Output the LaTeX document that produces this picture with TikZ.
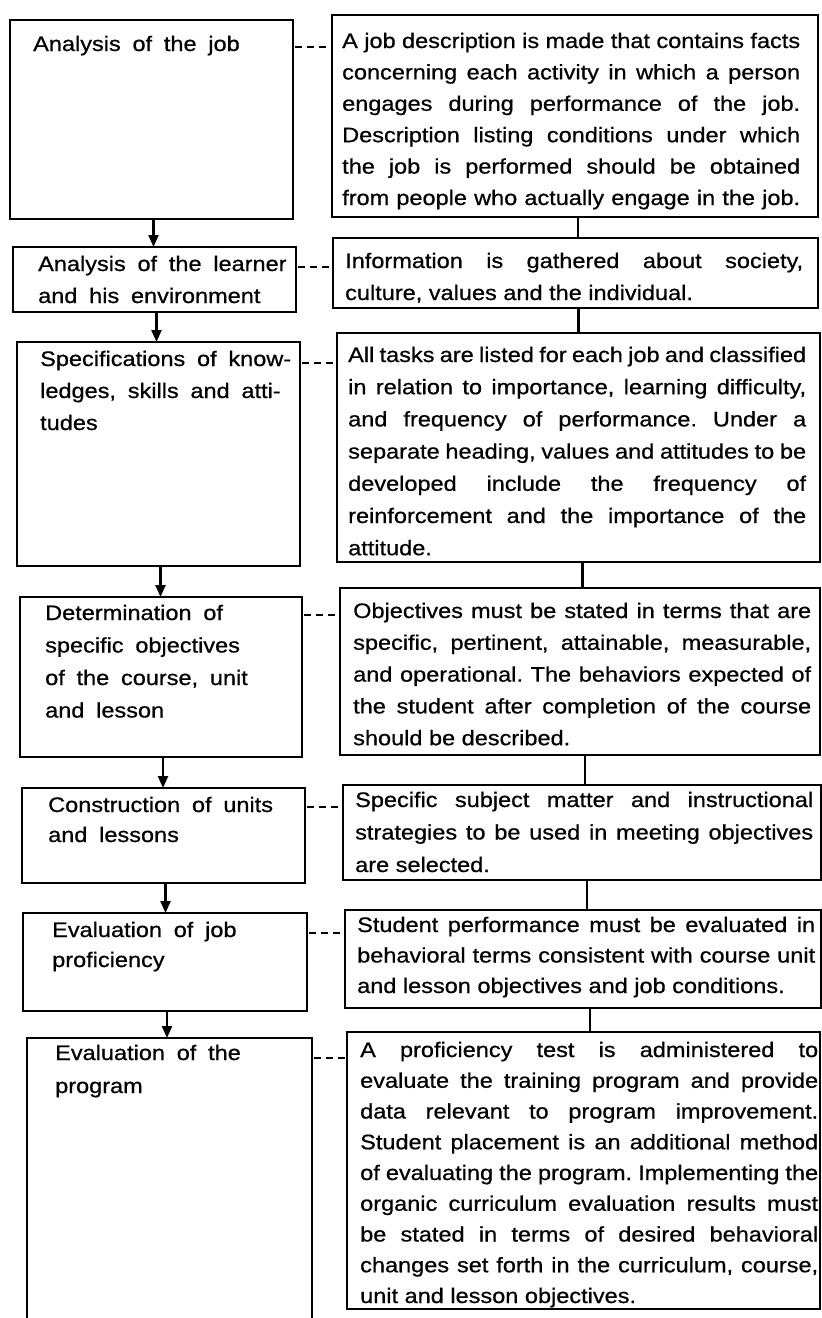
\documentclass[tikz,border=0pt]{standalone}
\usepackage{fontspec}
\setmainfont{Liberation Sans}[FakeStretch=1.12,FakeBold=0.7]
\newfontfamily\lfont{Liberation Sans}[FakeStretch=1.12,FakeBold=0.7,WordSpace=1.8]
\usetikzlibrary{arrows.meta}
\newlength\rw \setlength\rw{458pt}
\newcommand\jl[1]{\hbox to \rw{#1}}
\newcommand\nl[1]{\hbox{#1}}
\newcommand\txtblock[2]{\vtop{\baselineskip=#1pt\lineskiplimit=-100pt #2}}
\hbadness=10000 \hfuzz=50pt
\frenchspacing
\begin{document}
\begin{tikzpicture}[x=1pt,y=-1pt,
  box/.style={draw, line width=2.3pt, anchor=north west, inner sep=0pt, outer sep=0pt},
  rtext/.style={anchor=base west, inner sep=0pt, font=\fontsize{21}{32}\selectfont\frenchspacing},
  ltext/.style={anchor=base west, inner sep=0pt, font=\lfont\fontsize{21}{32}\selectfont\frenchspacing},
  flow/.style={line width=2.3pt, -{Triangle[length=12pt,width=10pt]}},
  link/.style={line width=2.3pt},
  dlink/.style={line width=2.3pt, dash pattern=on 7pt off 5pt, dash phase=10pt}]
\useasboundingbox (0,0) rectangle (822,1318);
\clip (0,0) rectangle (822,1318);

% left boxes
\node[box, minimum width=283pt, minimum height=199pt] (L1) at (10,20) {};
\node[box, minimum width=283pt, minimum height=65pt]  (L2) at (13,247) {};
\node[box, minimum width=283pt, minimum height=224pt] (L3) at (17,342) {};
\node[box, minimum width=282pt, minimum height=160pt] (L4) at (20,597) {};
\node[box, minimum width=283pt, minimum height=95pt]  (L5) at (22,788) {};
\node[box, minimum width=284pt, minimum height=98pt]  (L6) at (23,913) {};
\node[box, minimum width=285pt, minimum height=300pt] (L7) at (27,1038) {};

% right boxes
\node[box, minimum width=486pt, minimum height=202pt] (R1) at (332,15) {};
\node[box, minimum width=485pt, minimum height=70pt]  (R2) at (333,238) {};
\node[box, minimum width=483pt, minimum height=229pt] (R3) at (337,333) {};
\node[box, minimum width=480pt, minimum height=167pt] (R4) at (340,588) {};
\node[box, minimum width=478pt, minimum height=95pt]  (R5) at (343,785) {};
\node[box, minimum width=476pt, minimum height=98pt]  (R6) at (345,910) {};
\node[box, minimum width=473pt, minimum height=277pt] (R7) at (347,1032) {};

% left texts
\node[ltext] (L1t) at (33,51) {\txtblock{32}{\nl{Analysis of the job}}};
\node[ltext] (L2t) at (38,271) {\txtblock{32}{\nl{Analysis of the learner}\nl{and his environment}}};
\node[ltext] (L3t) at (40,366) {\txtblock{32}{\nl{Specifications of know-}\nl{ledges, skills and atti-}\nl{tudes}}};
\node[ltext] (L4t) at (45,620) {\txtblock{32.5}{\nl{Determination of}\nl{specific objectives}\nl{of the course, unit}\nl{and lesson}}};
\node[ltext] (L5t) at (48,812) {\txtblock{30}{\nl{Construction of units}\nl{and lessons}}};
\node[ltext] (L6t) at (52,937) {\txtblock{30}{\nl{Evaluation of job}\nl{proficiency}}};
\node[ltext] (L7t) at (55,1060) {\txtblock{33}{\nl{Evaluation of the}\nl{program}}};

% right texts
\node[rtext] (R1t) at (342,48) {\txtblock{31.4}{%
\jl{A job description is made that contains facts}%
\jl{concerning each activity in which a person}%
\jl{engages during performance of the job.}%
\jl{Description listing conditions under which}%
\jl{the job is performed should be obtained}%
\jl{from people who actually engage in the job.}}};
\node[rtext] (R2t) at (345,268) {\txtblock{32}{%
\jl{Information is gathered about society,}%
\nl{culture, values and the individual.}}};
\node[rtext] (R3t) at (348,362) {\txtblock{32.2}{%
\jl{All tasks are listed for each job and classified}%
\jl{in relation to importance, learning difficulty,}%
\jl{and frequency of performance. Under a}%
\jl{separate heading, values and attitudes to be}%
\jl{developed include the frequency of}%
\jl{reinforcement and the importance of the}%
\nl{attitude.}}};
\node[rtext] (R4t) at (353,618) {\txtblock{31.8}{%
\jl{Objectives must be stated in terms that are}%
\jl{specific, pertinent, attainable, measurable,}%
\jl{and operational. The behaviors expected of}%
\jl{the student after completion of the course}%
\nl{should be described.}}};
\node[rtext] (R5t) at (355,807) {\txtblock{32.5}{%
\jl{Specific subject matter and instructional}%
\jl{strategies to be used in meeting objectives}%
\nl{are selected.}}};
\node[rtext] (R6t) at (357,932) {\txtblock{30.5}{%
\jl{Student performance must be evaluated in}%
\jl{behavioral terms consistent with course unit}%
\nl{and lesson objectives and job conditions.}}};
\node[rtext] (R7t) at (360,1057) {\txtblock{30.75}{%
\jl{A proficiency test is administered to}%
\jl{evaluate the training program and provide}%
\jl{data relevant to program improvement.}%
\jl{Student placement is an additional method}%
\jl{of evaluating the program. Implementing the}%
\jl{organic curriculum evaluation results must}%
\jl{be stated in terms of desired behavioral}%
\jl{changes set forth in the curriculum, course,}%
\nl{unit and lesson objectives.}}};

% flow arrows (left column)
\draw[flow] ([xshift=2pt]L1.south) -- ([xshift=2pt]L1.south |- L2.north);
\draw[flow] ([xshift=2pt]L2.south) -- ([xshift=2pt]L2.south |- L3.north);
\draw[flow] ([xshift=2pt]L3.south) -- ([xshift=2pt]L3.south |- L4.north);
\draw[flow] ([xshift=2pt]L4.south) -- ([xshift=2pt]L4.south |- L5.north);
\draw[flow] ([xshift=2pt]L5.south) -- ([xshift=2pt]L5.south |- L6.north);
\draw[flow] ([xshift=2pt]L6.south) -- ([xshift=2pt]L6.south |- L7.north);

% right column links
\draw[link] ([xshift=3pt]R1.south) -- ([xshift=3pt]R1.south |- R2.north);
\draw[link] ([xshift=3pt]R2.south) -- ([xshift=3pt]R2.south |- R3.north);
\draw[link] ([xshift=4pt]R3.south) -- ([xshift=4pt]R3.south |- R4.north);
\draw[link] ([xshift=5pt]R4.south) -- ([xshift=5pt]R4.south |- R5.north);
\draw[link] ([xshift=5pt]R5.south) -- ([xshift=5pt]R5.south |- R6.north);
\draw[link] ([xshift=7pt]R6.south) -- ([xshift=7pt]R6.south |- R7.north);

% dashed links
\coordinate (d1) at (0,47);
\coordinate (d2) at (0,267);
\coordinate (d3) at (0,363);
\coordinate (d4) at (0,615);
\coordinate (d5) at (0,807);
\coordinate (d6) at (0,933);
\coordinate (d7) at (0,1058);
\draw[dlink] (L1.east |- d1) -- (R1.west |- d1);
\draw[dlink] (L2.east |- d2) -- (R2.west |- d2);
\draw[dlink] (L3.east |- d3) -- (R3.west |- d3);
\draw[dlink] (L4.east |- d4) -- (R4.west |- d4);
\draw[dlink] (L5.east |- d5) -- (R5.west |- d5);
\draw[dlink] (L6.east |- d6) -- (R6.west |- d6);
\draw[dlink] (L7.east |- d7) -- (R7.west |- d7);
\end{tikzpicture}
\end{document}
